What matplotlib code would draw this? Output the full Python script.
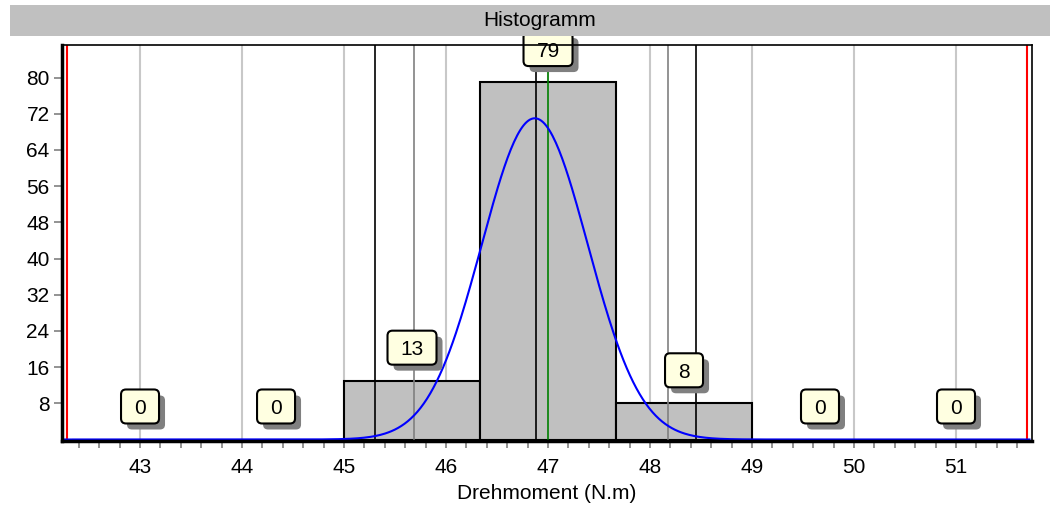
import numpy as np
import matplotlib
matplotlib.use('Agg')
import matplotlib.pyplot as plt
from matplotlib.patches import Rectangle, FancyBboxPatch
from matplotlib.transforms import Affine2D, ScaledTranslation

# bins and counts
bin_edges = [42.333, 43.667, 45.0, 46.333, 47.667, 49.0, 50.333, 51.667]
counts = [0, 0, 13, 79, 8, 0, 0]

# normal curve parameters
fit_mean = 46.87
fit_sigma = 0.52
fit_peak = 71.0

# reference lines
red_lines = [42.284, 51.70]
black_lines = [45.30, 48.45]
gray_lines = [45.69, 48.18]
mean_line = 46.88
nominal_line = 47.0

x_ticks = [43, 44, 45, 46, 47, 48, 49, 50, 51]
y_ticks = [8, 16, 24, 32, 40, 48, 56, 64, 72, 80]

plt.rcParams['font.family'] = ['Liberation Sans', 'DejaVu Sans']
FS = 15

fig = plt.figure(figsize=(10.5, 5.09), dpi=100)
ax = fig.add_axes([62 / 1050, 1 - 441 / 509, 970 / 1050, 396 / 509])

# title bar
fig.patches.append(Rectangle((10 / 1050, 1 - 35.5 / 509), 1 - 10 / 1050, 30.5 / 509,
                             transform=fig.transFigure, facecolor='#c0c0c0',
                             edgecolor='none', zorder=0))
fig.text(540 / 1050, 1 - 20 / 509, 'Histogramm', ha='center', va='center', fontsize=FS)

# grid
for x in x_ticks:
    ax.axvline(x, color='#c8c8c8', lw=1.5, zorder=1)

# bars
widths = np.diff(bin_edges)
ax.bar(bin_edges[:-1], counts, width=widths, align='edge', color='#c0c0c0',
       edgecolor='black', linewidth=1.5, zorder=2)

for x in red_lines:
    ax.axvline(x, color='red', lw=1.5, zorder=3)
for x in black_lines:
    ax.axvline(x, color='black', lw=1.2, zorder=3)
for x in gray_lines:
    ax.axvline(x, color='#808080', lw=1.2, zorder=3)
ax.axvline(mean_line, color='black', lw=1.2, zorder=3)
ax.axvline(nominal_line, color='green', lw=1.2, zorder=3)

# normal curve
xs = np.linspace(42.26, 51.72, 600)
ys = fit_peak * np.exp(-0.5 * ((xs - fit_mean) / fit_sigma) ** 2)
ax.plot(xs, ys, color='blue', lw=1.5, zorder=4)

# count labels: boxes sized in pixels, anchored at data points
centers = [(a + b) / 2 for a, b in zip(bin_edges[:-1], bin_edges[1:])]
for c, n in zip(centers, counts):
    s = str(n)
    w, h = 27 + 11 * len(s), 34
    anchor = ScaledTranslation(c, n + 7.3, ax.transData)
    ax.add_patch(FancyBboxPatch((-w / 2 + 6, -h / 2 - 6), w, h,
                                boxstyle='round,pad=0,rounding_size=5',
                                facecolor='#808080', edgecolor='none',
                                transform=Affine2D() + anchor, zorder=5, clip_on=False))
    ax.add_patch(FancyBboxPatch((-w / 2, -h / 2), w, h,
                                boxstyle='round,pad=0,rounding_size=5',
                                facecolor='#ffffe1', edgecolor='black', linewidth=1.5,
                                transform=Affine2D() + anchor, zorder=6, clip_on=False))
    ax.text(c, n + 7.3, s, ha='center', va='center_baseline', fontsize=FS,
            color='black', zorder=7)

ax.set_xlim(42.235, 51.745)
ax.set_ylim(-0.33, 87.2)
ax.set_xticks(x_ticks)
ax.set_xticks(np.arange(42.4, 51.75, 0.2), minor=True)
ax.set_yticks(y_ticks)
ax.tick_params(axis='x', which='both', length=5, color='#808080', width=1.2,
               labelsize=FS, pad=7)
ax.tick_params(axis='y', length=6, color='#808080', width=1.2, labelsize=FS, pad=3)
ax.set_xlabel('Drehmoment (N.m)', fontsize=FS, labelpad=5)

ax.spines['left'].set_linewidth(2.5)
ax.spines['bottom'].set_linewidth(2.5)
ax.spines['top'].set_linewidth(1.2)
ax.spines['right'].set_linewidth(1.2)
for sp in ax.spines.values():
    sp.set_zorder(8)

fig.savefig('out.png', dpi=100)
plt.close(fig)
